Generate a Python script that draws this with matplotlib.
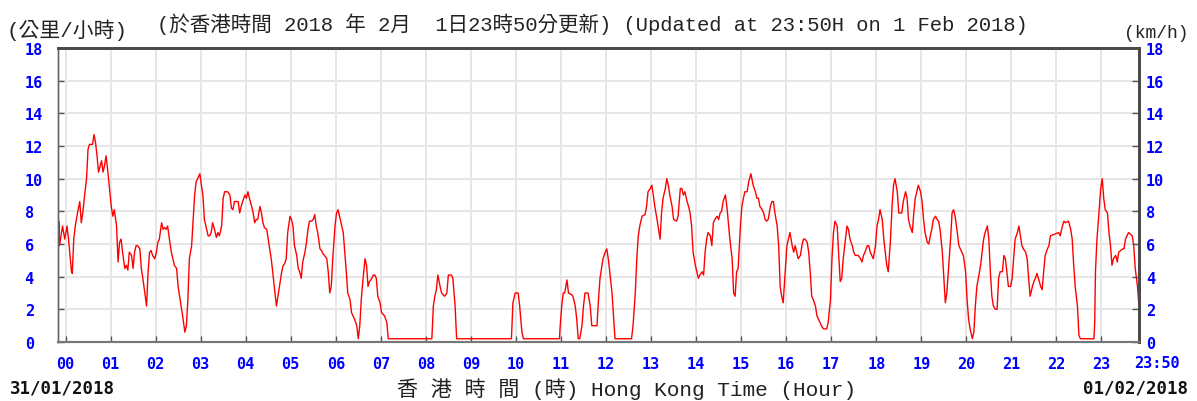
import matplotlib
matplotlib.use("Agg")
import matplotlib.pyplot as plt
import numpy as np

# minutes after 00:00 on 01/02/2018 (series starts 23:50 on 31/01)
minutes = [
    -10, -9, -8, -4, -1, 2, 4, 8, 9, 11, 13, 16, 19, 21, 23, 25, 28, 30, 32, 36,
    38, 40, 42, 44, 48, 50, 52, 54, 56, 59, 61, 63, 65, 68, 70, 72, 74, 76, 79, 81,
    83, 85, 88, 90, 92, 94, 96, 99, 101, 103, 105, 108, 110, 112, 114, 116, 119, 121, 123, 125,
    128, 130, 132, 134, 136, 139, 141, 143, 145, 148, 150, 152, 154, 156, 159, 161, 163, 165, 168, 170,
    172, 174, 176, 179, 181, 183, 185, 188, 190, 192, 194, 196, 199, 201, 203, 205, 208, 210, 212, 216,
    219, 221, 223, 225, 230, 232, 234, 236, 239, 241, 243, 245, 248, 250, 252, 254, 256, 259, 261, 263,
    265, 268, 270, 272, 274, 276, 279, 281, 283, 285, 288, 290, 292, 294, 296, 299, 301, 303, 305, 308,
    310, 312, 314, 316, 319, 321, 323, 325, 328, 330, 332, 334, 336, 339, 341, 343, 345, 348, 350, 352,
    354, 356, 359, 361, 363, 365, 368, 370, 372, 374, 376, 379, 381, 383, 385, 388, 390, 392, 394, 396,
    399, 401, 403, 405, 408, 410, 412, 414, 416, 419, 421, 425, 428, 430, 488, 490, 492, 494, 496, 499,
    501, 505, 508, 510, 514, 516, 519, 521, 594, 596, 599, 603, 605, 608, 610, 658, 659, 661, 663, 665,
    668, 670, 674, 676, 679, 681, 683, 685, 688, 690, 692, 696, 699, 701, 708, 710, 712, 714, 716, 719,
    721, 723, 725, 728, 730, 732, 754, 756, 759, 761, 763, 765, 768, 772, 774, 776, 779, 781, 783, 785,
    788, 790, 792, 794, 796, 799, 801, 803, 805, 808, 810, 814, 816, 819, 821, 823, 825, 828, 830, 832,
    834, 836, 839, 841, 843, 845, 848, 850, 852, 854, 856, 859, 861, 863, 865, 868, 870, 872, 874, 876,
    879, 881, 883, 885, 888, 890, 892, 894, 896, 899, 901, 903, 905, 908, 910, 913, 916, 919, 921, 923,
    925, 928, 930, 932, 934, 936, 939, 941, 943, 945, 948, 950, 952, 954, 956, 959, 961, 963, 965, 968,
    970, 972, 974, 976, 979, 981, 983, 985, 988, 990, 992, 994, 996, 999, 1001, 1003, 1005, 1008, 1010, 1014,
    1016, 1019, 1021, 1023, 1025, 1028, 1030, 1032, 1034, 1036, 1039, 1041, 1043, 1045, 1048, 1050, 1052, 1056, 1059, 1061,
    1063, 1065, 1068, 1070, 1072, 1074, 1076, 1079, 1081, 1083, 1085, 1088, 1090, 1092, 1094, 1096, 1099, 1101, 1103, 1105,
    1108, 1110, 1114, 1116, 1119, 1121, 1123, 1125, 1128, 1130, 1132, 1134, 1136, 1139, 1141, 1143, 1145, 1148, 1150, 1152,
    1154, 1156, 1159, 1161, 1163, 1165, 1168, 1170, 1172, 1174, 1176, 1179, 1181, 1183, 1185, 1188, 1190, 1192, 1194, 1196,
    1199, 1201, 1203, 1205, 1208, 1210, 1212, 1214, 1216, 1219, 1221, 1223, 1225, 1228, 1230, 1232, 1234, 1236, 1239, 1241,
    1243, 1245, 1248, 1250, 1252, 1254, 1256, 1259, 1261, 1263, 1265, 1268, 1270, 1272, 1274, 1276, 1279, 1281, 1283, 1285,
    1288, 1290, 1292, 1294, 1296, 1299, 1301, 1303, 1305, 1308, 1310, 1312, 1323, 1325, 1328, 1330, 1332, 1336, 1339, 1341,
    1343, 1345, 1348, 1350, 1352, 1370, 1371, 1372, 1374, 1376, 1379, 1381, 1383, 1385, 1388, 1390, 1392, 1394, 1396, 1399,
    1401, 1403, 1408, 1410, 1412, 1414, 1416, 1421, 1423, 1425, 1428, 1430,
]
# wind speed (km/h)
speeds = [
    5.3, 7.4, 5.9, 7.1, 6.3, 7.1, 6.3, 4.3, 4.2, 6.3, 7.1, 7.9, 8.6, 7.3, 7.9, 8.8, 10.0, 11.8, 12.1, 12.1,
    12.7, 12.2, 11.4, 10.4, 11.1, 10.4, 10.8, 11.4, 10.6, 9.2, 8.3, 7.7, 8.1, 7.1, 4.9, 6.1, 6.3, 5.5, 4.5, 4.7,
    4.4, 5.5, 5.3, 4.5, 5.5, 5.9, 5.9, 5.7, 4.5, 3.9, 3.2, 2.2, 4.3, 5.5, 5.6, 5.3, 5.1, 5.5, 6.1, 6.3,
    7.3, 6.9, 7.0, 6.9, 7.1, 6.1, 5.5, 5.1, 4.7, 4.5, 3.4, 2.8, 2.2, 1.6, 0.6, 1.0, 2.6, 5.1, 5.9, 7.5,
    9.0, 9.8, 10.0, 10.3, 9.6, 9.0, 7.5, 6.9, 6.5, 6.5, 6.7, 7.3, 6.8, 6.4, 6.7, 6.5, 7.1, 8.8, 9.2, 9.2,
    9.0, 8.2, 8.1, 8.6, 8.6, 7.9, 8.3, 8.6, 9.0, 8.8, 9.2, 8.8, 8.3, 7.9, 7.3, 7.5, 7.5, 8.3, 7.9, 7.3,
    7.0, 6.9, 6.3, 5.7, 5.1, 4.3, 3.0, 2.2, 2.8, 3.4, 4.3, 4.7, 4.8, 5.1, 6.7, 7.7, 7.5, 7.1, 5.9, 5.3,
    4.5, 4.3, 3.9, 4.9, 5.5, 6.1, 6.9, 7.4, 7.4, 7.5, 7.8, 7.1, 6.7, 5.7, 5.6, 5.4, 5.3, 5.1, 4.3, 3.0,
    3.4, 5.1, 7.1, 7.9, 8.1, 7.7, 7.1, 6.7, 5.5, 4.3, 3.0, 2.6, 1.8, 1.6, 1.4, 1.0, 0.2, 1.0, 2.6, 3.7,
    5.1, 4.7, 3.4, 3.7, 3.9, 4.1, 4.1, 3.9, 2.8, 2.4, 1.8, 1.6, 1.2, 0.2, 0.2, 2.2, 2.8, 3.2, 4.1, 3.4,
    3.0, 2.8, 3.0, 4.1, 4.1, 3.9, 2.2, 0.2, 0.2, 2.4, 3.0, 3.0, 2.2, 0.6, 0.2, 0.2, 1.0, 2.2, 3.0, 3.0,
    3.8, 3.0, 2.9, 2.8, 2.2, 1.4, 0.2, 0.2, 1.0, 2.2, 3.0, 3.0, 2.2, 1.0, 1.0, 2.6, 3.9, 4.5, 5.1, 5.5,
    5.7, 5.1, 4.3, 3.0, 1.6, 0.2, 0.2, 1.0, 3.0, 5.1, 6.5, 7.1, 7.7, 7.8, 8.3, 9.2, 9.4, 9.6, 9.0, 8.3,
    7.5, 6.9, 6.3, 7.9, 8.8, 9.4, 10.0, 9.6, 9.0, 8.3, 7.5, 7.4, 7.7, 9.4, 9.4, 9.0, 9.2, 8.6, 8.3, 7.9,
    7.1, 5.5, 4.7, 4.3, 3.9, 4.1, 4.3, 4.1, 5.5, 6.3, 6.7, 6.5, 5.9, 7.3, 7.5, 7.7, 7.5, 7.9, 8.0, 8.6,
    9.0, 8.3, 7.3, 6.3, 5.1, 3.0, 2.8, 4.3, 4.5, 7.1, 8.3, 8.8, 9.2, 9.2, 9.8, 10.3, 9.6, 9.2, 8.8, 8.8,
    8.3, 8.1, 7.9, 7.5, 7.4, 7.5, 8.3, 8.6, 8.6, 7.9, 7.1, 5.9, 3.4, 2.8, 2.4, 4.5, 5.9, 6.3, 6.7, 5.9,
    5.5, 5.9, 5.5, 5.1, 5.3, 5.9, 6.3, 6.3, 6.1, 5.5, 4.3, 2.8, 2.6, 2.2, 1.6, 1.4, 1.2, 0.9, 0.8, 0.8,
    1.2, 2.6, 5.1, 6.7, 7.4, 7.1, 5.3, 3.7, 3.9, 5.1, 6.3, 7.1, 6.9, 6.3, 5.9, 5.5, 5.3, 5.3, 5.1, 4.9,
    5.3, 5.5, 5.9, 5.9, 5.5, 5.3, 5.1, 5.9, 7.1, 7.5, 8.1, 7.5, 6.3, 5.5, 4.7, 4.3, 6.3, 8.3, 9.6, 10.0,
    9.2, 7.9, 7.9, 8.6, 9.2, 8.8, 7.5, 7.1, 6.7, 7.9, 8.8, 9.2, 9.6, 9.2, 8.6, 7.5, 6.7, 6.1, 6.0, 6.5,
    6.9, 7.5, 7.7, 7.5, 7.4, 6.9, 5.5, 3.9, 2.4, 3.0, 4.3, 6.3, 7.9, 8.1, 7.7, 6.7, 5.9, 5.7, 5.5, 5.3,
    4.3, 2.6, 1.4, 0.8, 0.2, 0.6, 2.2, 3.4, 3.9, 4.7, 5.5, 6.3, 6.7, 7.1, 6.3, 4.3, 2.8, 2.2, 2.0, 2.0,
    3.9, 4.3, 4.3, 5.3, 5.1, 4.3, 3.4, 3.4, 3.9, 5.1, 6.3, 6.7, 7.1, 6.5, 5.9, 5.7, 5.5, 5.1, 3.9, 2.8,
    3.4, 3.7, 3.9, 4.2, 3.9, 3.4, 3.2, 4.3, 5.3, 5.7, 5.9, 6.5, 6.7, 6.5, 7.1, 7.4, 7.3, 7.4, 6.9, 6.3,
    4.7, 3.4, 2.2, 0.4, 0.2, 0.2, 1.2, 4.3, 6.3, 7.5, 9.4, 10.0, 8.8, 8.1, 7.9, 6.7, 5.9, 4.7, 5.1, 5.3,
    4.9, 5.5, 5.7, 5.7, 6.3, 6.5, 6.7, 6.5, 5.9, 4.5, 3.4, 2.2,
]

hour_ticks = list(range(24))
hour_labels = ["%02d" % h for h in hour_ticks]
y_ticks = list(range(0, 19, 2))
y_labels = [str(v) for v in y_ticks]
end_hour = 23 + 50 / 60

W, H = 1197, 402
fig = plt.figure(figsize=(W / 100, H / 100), dpi=100)
ax = fig.add_axes([58 / W, 1 - 343 / H, (1139 - 58) / W, (343 - 49) / H])

hours = np.array(minutes) / 60
ax.plot(hours, speeds, color="#ff0000", lw=1.0, zorder=3)
ax.set_xlim(-10 / 60, end_hour)
ax.set_ylim(0, 18)

ax.grid(True, color="#e6e6e6", lw=1.4, zorder=0)
ax.set_axisbelow(True)

tick_font = dict(family="DejaVu Sans Mono", fontweight="bold", fontsize=11, color="blue")
ax.set_xticks(hour_ticks, hour_labels, **tick_font)
ax.set_yticks(y_ticks, y_labels, **tick_font)
ax.tick_params(axis="x", direction="in", length=4, width=1, color="#555555", pad=10)
ax.tick_params(axis="y", direction="in", length=4, width=1, color="#555555", pad=24)
for lab in ax.get_yticklabels():
    lab.set_horizontalalignment("left")

ax2 = ax.twinx()
ax2.set_ylim(0, 18)
ax2.set_yticks(y_ticks, y_labels, **tick_font)
ax2.tick_params(axis="y", direction="in", length=5, width=1, color="#555555", pad=5)

for a in (ax, ax2):
    a.spines["top"].set_color("#4a4a4a")
    a.spines["top"].set_linewidth(2)
    a.spines["right"].set_color("#4a4a4a")
    a.spines["right"].set_linewidth(2)
    a.spines["left"].set_color("#666666")
    a.spines["left"].set_linewidth(1)
    a.spines["bottom"].set_color("#777777")
    a.spines["bottom"].set_linewidth(1.5)

# last label sits right of the end tick
ax.annotate("23:50", xy=(end_hour, 0), xycoords=("data", "axes fraction"),
            xytext=(18, -21), textcoords="offset pixels",
            ha="center", va="center", **tick_font)

cjk = ["Liberation Mono", "Noto Sans CJK TC"]
fig.text(6 / W, 1 - 30 / H, "(公里/小時)", family=cjk, fontsize=15,
         color="#222222", ha="left", va="center")
fig.text(157 / W, 1 - 24 / H,
         "(於香港時間 2018 年 2月  1日23時50分更新) (Updated at 23:50H on 1 Feb 2018)",
         family=cjk, fontsize=14.8, color="#222222", ha="left", va="center")
fig.text(1124 / W, 1 - 34 / H, "(km/h)", family=cjk, fontsize=13,
         color="#222222", ha="left", va="center")
fig.text(397 / W, 1 - 389 / H, "香 港 時 間 (時) Hong Kong Time (Hour)",
         family=cjk, fontsize=15.2, color="#222222", ha="left", va="center")
fig.text(10 / W, 1 - 389 / H, "31/01/2018", family="DejaVu Sans Mono",
         fontweight="bold", fontsize=12.5, color="#111111", ha="left", va="center")
fig.text(1188 / W, 1 - 389 / H, "01/02/2018", family="DejaVu Sans Mono",
         fontweight="bold", fontsize=12.5, color="#111111", ha="right", va="center")

fig.savefig("out.png", dpi=100)
